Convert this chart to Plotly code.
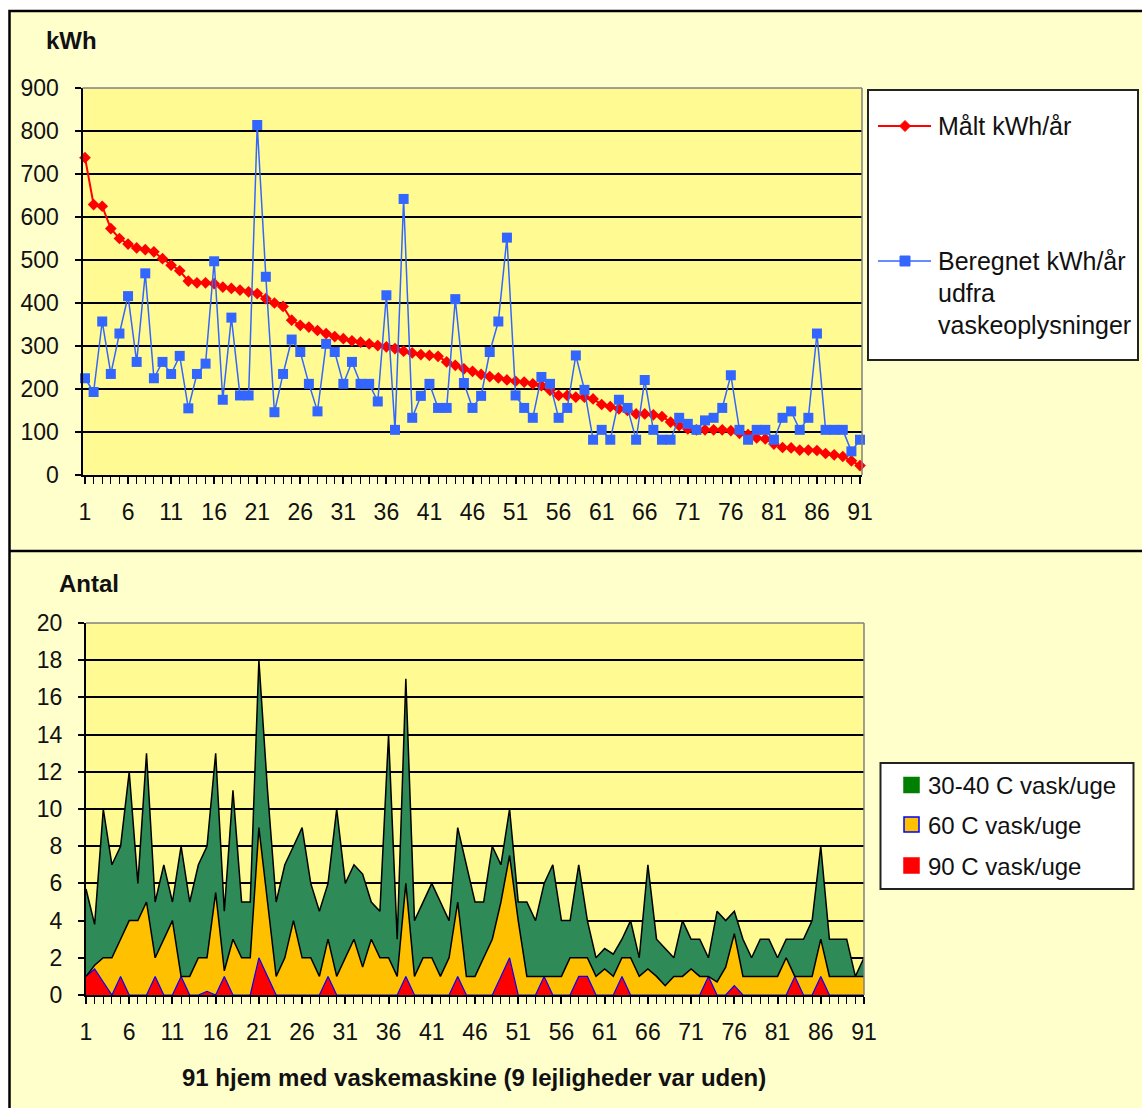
import plotly.graph_objects as go

W, H = 1142, 1108

# ---------------- data ----------------
hjem = list(range(1, 92))
x_tick_vals = list(range(1, 92, 5))

maalt_kwh = [738, 629, 625, 573, 550, 537, 528, 524, 519, 503,
             488, 475, 451, 447, 447, 445, 437, 434, 430, 426,
             422, 410, 400, 392, 360, 348, 344, 336, 329, 322,
             317, 312, 309, 305, 301, 298, 294, 288, 284, 280,
             278, 276, 263, 255, 247, 241, 234, 229, 226, 221,
             218, 216, 212, 208, 197, 185, 185, 181, 181, 177,
             164, 159, 154, 150, 142, 142, 140, 136, 123, 115,
             107, 105, 105, 105, 105, 103, 97, 94, 86, 84,
             72, 64, 63, 58, 58, 57, 50, 47, 43, 33, 22]

beregnet_kwh = [225, 193, 357, 235, 329, 416, 263, 469, 225, 263,
                235, 277, 155, 235, 259, 497, 175, 366, 185, 185,
                814, 461, 146, 235, 315, 286, 212, 148, 305, 286,
                212, 263, 212, 212, 171, 418, 105, 642, 133, 184,
                212, 156, 156, 409, 214, 156, 184, 286, 357, 552,
                185, 156, 133, 228, 212, 133, 156, 278, 198, 82,
                105, 82, 175, 156, 82, 221, 105, 82, 82, 133,
                119, 105, 127, 133, 156, 232, 105, 82, 105, 105,
                82, 133, 148, 105, 133, 329, 105, 105, 105, 55, 82]

vask_90 = [1, 1.4, 0.7, 0, 1, 0, 0, 0, 1, 0,
           0, 1, 0, 0, 0.2, 0, 1, 0, 0, 0,
           2, 1, 0, 0, 0, 0, 0, 0, 1, 0,
           0, 0, 0, 0, 0, 0, 0, 1, 0, 0,
           0, 0, 0, 1, 0, 0, 0, 0, 1, 2,
           0, 0, 0, 1, 0, 0, 0, 1, 1, 0,
           0, 0, 1, 0, 0, 0, 0, 0, 0, 0,
           0, 0, 1, 0, 0, 0.5, 0, 0, 0, 0,
           0, 0, 1, 0, 0, 1, 0, 0, 0, 0, 0]

vask_60 = [0, 0.2, 1.3, 2, 2, 4, 4, 5, 1, 3,
           4, 0, 1, 2, 1.8, 5.5, 0.3, 3, 2, 2,
           7, 4, 1, 2, 4, 2, 2, 1, 2, 1,
           2, 3, 1.5, 3, 2, 2, 1, 5, 1, 2,
           2, 1, 2, 4, 1, 1, 2, 3, 4, 5.5,
           4, 1, 1, 0, 1, 1, 2, 1, 1, 1,
           1.4, 1, 1, 2, 1, 1.4, 1, 0.5, 1, 1,
           1.4, 1, 0, 0.7, 1.5, 2.8, 1, 1, 1, 1,
           1, 2, 0, 1, 1, 2, 1, 1, 1, 1, 1]

vask_3040 = [4.7, 2.2, 8, 5, 5, 8, 2, 8, 3, 4,
             1, 7, 4, 5, 6, 7.5, 3.2, 8, 3, 3,
             9, 6, 4, 5, 4, 7, 4, 3.5, 3, 9,
             4, 4, 5, 2, 2.5, 12, 2, 11, 3, 3,
             4, 4, 2, 4, 6, 4, 3, 5, 2, 2.5,
             1, 4, 3, 5, 6, 3, 2, 5, 2, 1,
             1.1, 1.2, 1, 2, 1, 5.6, 2, 2, 1, 3,
             1.6, 2, 1, 3.8, 2.5, 1.2, 2, 1, 2, 2,
             1, 1, 2, 2, 3, 5, 2, 2, 2, 0, 1]

# ---------------- helpers ----------------
def px(x):
    return x / W


def py(y):
    return 1 - y / H


FONT = "Liberation Sans, Arial, sans-serif"
TXT = "#111111"

fig = go.Figure()

# top chart
fig.add_trace(go.Scatter(
    x=hjem, y=maalt_kwh, xaxis="x", yaxis="y", mode="lines+markers",
    name="Målt kWh/år", showlegend=False, cliponaxis=False,
    line=dict(color="#FF0000", width=2),
    marker=dict(symbol="diamond", size=9, color="#FF0000")))
fig.add_trace(go.Scatter(
    x=hjem, y=beregnet_kwh, xaxis="x", yaxis="y", mode="lines+markers",
    name="Beregnet kWh/år udfra vaskeoplysninger", showlegend=False,
    cliponaxis=False,
    line=dict(color="#3366FF", width=1.5),
    marker=dict(symbol="square", size=10, color="#3366FF")))

# bottom chart (stacked areas)
fig.add_trace(go.Scatter(
    x=hjem, y=vask_90, xaxis="x2", yaxis="y2", mode="lines",
    stackgroup="vask", name="90 C vask/uge", showlegend=False,
    line=dict(color="#0000FF", width=1.2), fillcolor="#FF0000"))
fig.add_trace(go.Scatter(
    x=hjem, y=vask_60, xaxis="x2", yaxis="y2", mode="lines",
    stackgroup="vask", name="60 C vask/uge", showlegend=False,
    line=dict(color="#000000", width=1.5), fillcolor="#FFC000"))
fig.add_trace(go.Scatter(
    x=hjem, y=vask_3040, xaxis="x2", yaxis="y2", mode="lines",
    stackgroup="vask", name="30-40 C vask/uge", showlegend=False,
    line=dict(color="#000000", width=1.5), fillcolor="#2E8B57"))

tickfont = dict(family=FONT, size=23, color=TXT)

xcommon = dict(
    tickmode="array", tickvals=x_tick_vals, ticks="outside", ticklen=7,
    tickwidth=1.5, tickcolor="black", showline=True, linecolor="black",
    linewidth=2, showgrid=False, zeroline=False, tickfont=tickfont,
    ticklabelstandoff=8, automargin=False,
    minor=dict(tickmode="linear", tick0=1, dtick=1, ticks="outside",
               ticklen=7, tickwidth=1.2, tickcolor="black", showgrid=False))

ycommon = dict(
    tickmode="linear", tick0=0, ticks="outside", ticklen=6, tickwidth=1.5,
    tickcolor="black", showline=True, linecolor="black", linewidth=2,
    showgrid=True, gridcolor="black", gridwidth=1.6, zeroline=False,
    tickfont=tickfont, ticklabelstandoff=11, automargin=False)

top_x = [82.5, 862]
top_y = [88, 475]
bot_x = [86, 864]
bot_y = [623, 995]

fig.update_layout(
    width=W, height=H, autosize=False,
    margin=dict(l=0, r=0, t=0, b=0, pad=0, autoexpand=False),
    paper_bgcolor="white", plot_bgcolor="rgba(0,0,0,0)",
    font=dict(family=FONT, color=TXT),
    showlegend=False,
    xaxis=dict(domain=[px(top_x[0]), px(top_x[1])], range=[0.71, 91.23],
               anchor="y", **xcommon),
    yaxis=dict(domain=[py(top_y[1]), py(top_y[0])], range=[0, 900],
               dtick=100, anchor="x", **ycommon),
    xaxis2=dict(domain=[px(bot_x[0]), px(bot_x[1])], range=[1, 91],
                anchor="y2", **xcommon),
    yaxis2=dict(domain=[py(bot_y[1]), py(bot_y[0])], range=[0, 20],
                dtick=2, anchor="x2", **ycommon),
)

shapes = []
# chart area background and border
shapes.append(dict(type="rect", xref="paper", yref="paper", layer="below",
                   x0=px(9.5), x1=1.05, y0=-0.05, y1=py(11),
                   fillcolor="#FFFFCC", line=dict(color="black", width=2.5)))
# plot area fills
for (xa, ya) in [(top_x, top_y), (bot_x, bot_y)]:
    shapes.append(dict(type="rect", xref="paper", yref="paper", layer="below",
                       x0=px(xa[0]), x1=px(xa[1]), y0=py(ya[1]), y1=py(ya[0]),
                       fillcolor="#FFFB92", line=dict(width=0)))
# separator between the two charts
shapes.append(dict(type="line", xref="paper", yref="paper", layer="below",
                   x0=px(9.5), x1=1.05, y0=py(551), y1=py(551),
                   line=dict(color="black", width=2.5)))
# gray plot-area borders (top, right)
for (xa, ya) in [(top_x, top_y), (bot_x, bot_y)]:
    shapes.append(dict(type="line", xref="paper", yref="paper", layer="above",
                       x0=px(xa[0]), x1=px(xa[1]), y0=py(ya[0]), y1=py(ya[0]),
                       line=dict(color="#808080", width=1.5)))
    shapes.append(dict(type="line", xref="paper", yref="paper", layer="above",
                       x0=px(xa[1]), x1=px(xa[1]), y0=py(ya[1]), y1=py(ya[0]),
                       line=dict(color="#808080", width=1.5)))

# top legend
shapes.append(dict(type="rect", xref="paper", yref="paper", layer="above",
                   x0=px(868), x1=px(1138), y0=py(360), y1=py(90),
                   fillcolor="white", line=dict(color="#222222", width=2)))
shapes.append(dict(type="line", xref="paper", yref="paper", layer="above",
                   x0=px(878), x1=px(931), y0=py(126), y1=py(126),
                   line=dict(color="#FF0000", width=2)))
dcx, dcy, dr = 905, 126, 5.5
shapes.append(dict(type="path", xref="paper", yref="paper", layer="above",
                   path=f"M {px(dcx-dr)},{py(dcy)} L {px(dcx)},{py(dcy-dr)} "
                        f"L {px(dcx+dr)},{py(dcy)} L {px(dcx)},{py(dcy+dr)} Z",
                   fillcolor="#FF0000", line=dict(color="#FF0000", width=1)))
shapes.append(dict(type="line", xref="paper", yref="paper", layer="above",
                   x0=px(878), x1=px(931), y0=py(261), y1=py(261),
                   line=dict(color="#3366FF", width=1.5)))
shapes.append(dict(type="rect", xref="paper", yref="paper", layer="above",
                   x0=px(900), x1=px(910), y0=py(266), y1=py(256),
                   fillcolor="#3366FF", line=dict(color="#3366FF", width=1)))

# bottom legend
shapes.append(dict(type="rect", xref="paper", yref="paper", layer="above",
                   x0=px(880.5), x1=px(1133.5), y0=py(889), y1=py(763),
                   fillcolor="white", line=dict(color="#222222", width=2)))
legend_sw = [(785, "#008000", "#008000"), (824.5, "#FFC000", "#0000FF"),
             (865.5, "#FF0000", "#FF0000")]
for cy, fc, lc in legend_sw:
    shapes.append(dict(type="rect", xref="paper", yref="paper", layer="above",
                       x0=px(904), x1=px(919), y0=py(cy + 7.5), y1=py(cy - 7.5),
                       fillcolor=fc, line=dict(color=lc, width=1.5)))

fig.update_layout(shapes=shapes)

ann = []
def text(x, y, s, size=24, bold=False, xanchor="left"):
    ann.append(dict(xref="paper", yref="paper", x=px(x), y=py(y), text=s,
                    showarrow=False, xanchor=xanchor, yanchor="middle",
                    font=dict(family=FONT, size=size, color=TXT)))
    if bold:
        ann[-1]["text"] = f"<b>{s}</b>"

text(71, 41, "kWh", 24, True, "center")
text(89, 583, "Antal", 24, True, "center")
text(474, 1077, "91 hjem med vaskemaskine (9 lejligheder var uden)", 24, True, "center")

text(936, 126, "Målt kWh/år", 25)
text(936, 261, "Beregnet kWh/år", 25)
text(936, 293, "udfra", 25)
text(936, 325, "vaskeoplysninger", 25)

text(926, 785, "30-40 C vask/uge")
text(926, 825, "60 C vask/uge")
text(926, 866, "90 C vask/uge")

fig.update_layout(annotations=ann)

fig.write_html("out.html")
